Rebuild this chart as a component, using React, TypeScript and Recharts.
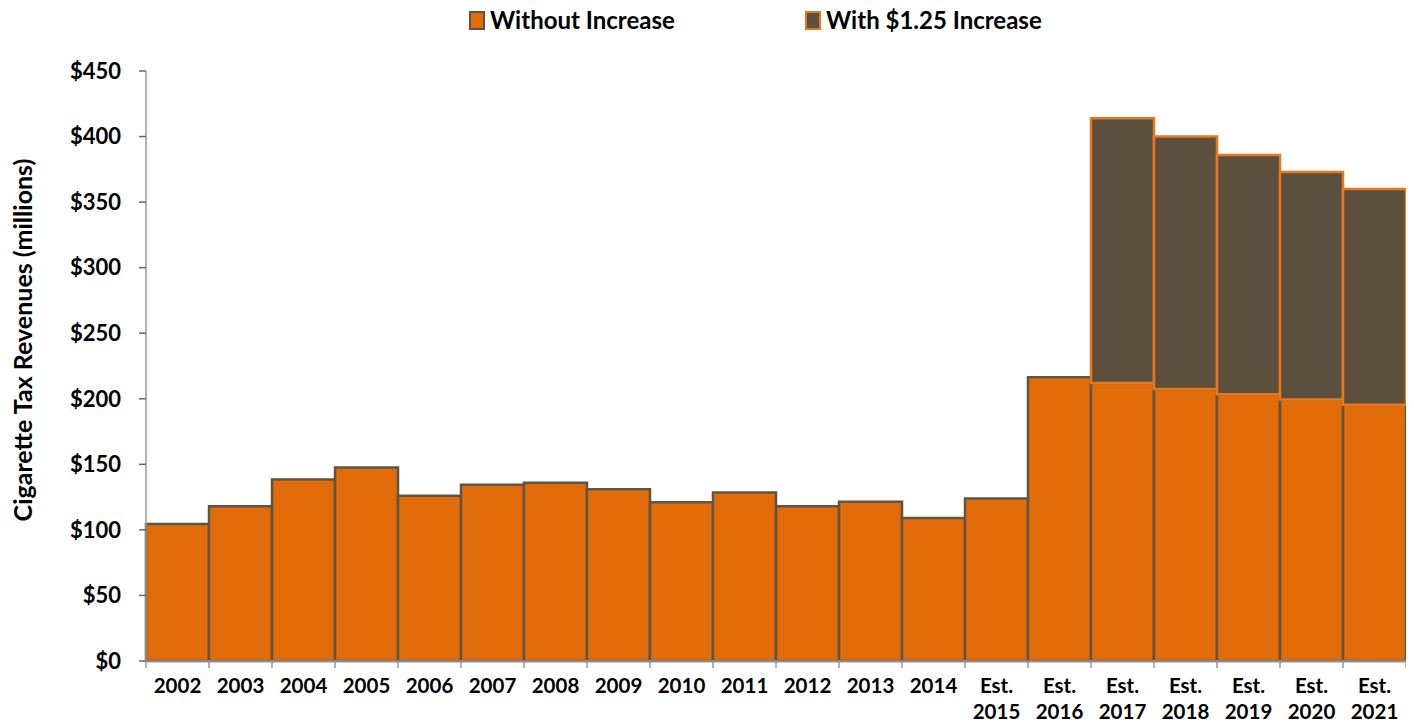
import React from "react";
import { BarChart, Bar, XAxis, YAxis } from "recharts";

const years = [
  "2002", "2003", "2004", "2005", "2006", "2007", "2008", "2009", "2010", "2011",
  "2012", "2013", "2014", "Est. 2015", "Est. 2016", "Est. 2017", "Est. 2018",
  "Est. 2019", "Est. 2020", "Est. 2021",
];
const withoutIncrease = [
  104.5, 118, 138.5, 147.5, 126, 134.5, 136, 131, 121, 128.5,
  118, 121.5, 109, 124, 216.5, 212, 207.5, 203.5, 199.5, 195.5,
];
// totals with the $1.25 increase (only estimated for 2017-2021)
const withIncreaseTotal = [
  null, null, null, null, null, null, null, null, null, null,
  null, null, null, null, null, 414, 400, 386, 373, 360,
];
const yTicks = [0, 50, 100, 150, 200, 250, 300, 350, 400, 450];

const data = years.map((year, i) => ({
  year,
  base: withoutIncrease[i],
  extra: withIncreaseTotal[i] == null ? null : (withIncreaseTotal[i] as number) - withoutIncrease[i],
}));

const ORANGE = "#e36c0a";
const BROWN = "#5c4f3e";
const EDGE = "#5f5545";
const FONT = "Lato, 'Noto Sans', sans-serif";

const W = 1406;
const H = 716;
const PLOT_LEFT = 138;
const PLOT_RIGHT = 1398;
const HALF_BAND = (PLOT_RIGHT - PLOT_LEFT) / years.length / 2;

const XTick = (props: any) => {
  const { x, y, payload, index } = props;
  const parts = String(payload.value).split(" ");
  return (
    <g>
      <line x1={x - HALF_BAND} x2={x - HALF_BAND} y1={y - 7} y2={y} stroke="#999" strokeWidth={1.5} />
      {index === years.length - 1 && (
        <line x1={x + HALF_BAND} x2={x + HALF_BAND} y1={y - 7} y2={y} stroke="#999" strokeWidth={1.5} />
      )}
      <text x={x} y={y + 25} textAnchor="middle" fontFamily={FONT} fontWeight={700} fontSize={20.5} fill="#000">
        {parts.map((p, k) => (
          <tspan key={k} x={x} dy={k === 0 ? 0 : 26}>{p}</tspan>
        ))}
      </text>
    </g>
  );
};

const LegendItem = ({ fill, stroke, label, left }: { fill: string; stroke: string; label: string; left: number }) => (
  <div style={{ position: "absolute", left, top: 0, height: 24, display: "flex", alignItems: "center" }}>
    <div style={{ width: 12, height: 15, background: fill, border: `2.5px solid ${stroke}`, marginRight: 5 }} />
    <span style={{ fontFamily: FONT, fontWeight: 700, fontSize: 24, lineHeight: "24px", color: "#000", whiteSpace: "nowrap" }}>
      {label}
    </span>
  </div>
);

export default function App() {
  return (
    <div style={{ position: "relative", width: W, height: H }}>
      <LegendItem fill={ORANGE} stroke={EDGE} label="Without Increase" left={461} />
      <LegendItem fill={BROWN} stroke="#e8771e" label="With $1.25 Increase" left={797} />
      <BarChart
        width={W}
        height={H}
        data={data}
        margin={{ top: 63, right: W - PLOT_RIGHT, left: 38, bottom: 3 }}
        barCategoryGap={0}
        barGap={0}
      >
        <XAxis
          dataKey="year"
          interval={0}
          height={60}
          tickLine={false}
          tickSize={7}
          tickMargin={0}
          axisLine={{ stroke: "#999", strokeWidth: 1.5 }}
          tick={<XTick />}
        />
        <YAxis
          width={100}
          domain={[0, 450]}
          ticks={yTicks}
          interval={0}
          tickSize={7}
          tickMargin={18}
          tickFormatter={(v: number) => `$${v}`}
          axisLine={{ stroke: "#999", strokeWidth: 1.5 }}
          tickLine={{ stroke: "#666", strokeWidth: 1.5 }}
          tick={{ fontFamily: FONT, fontWeight: 700, fontSize: 22, fill: "#000" }}
          label={{
            content: (p: any) => {
              const vb = p.viewBox;
              const cx = vb.x - 24;
              const cy = vb.y + vb.height / 2 - 26;
              return (
                <text
                  x={cx}
                  y={cy}
                  transform={`rotate(-90 ${cx} ${cy})`}
                  textAnchor="middle"
                  dominantBaseline="central"
                  fontFamily={FONT}
                  fontWeight={700}
                  fontSize={25}
                  fill="#000"
                >
                  Cigarette Tax Revenues (millions)
                </text>
              );
            },
          }}
        />
        <Bar dataKey="base" stackId="a" fill={ORANGE} stroke={EDGE} strokeWidth={2.5} isAnimationActive={false} />
        <Bar dataKey="extra" stackId="a" fill={BROWN} stroke="#e8771e" strokeWidth={2.5} isAnimationActive={false} />
      </BarChart>
    </div>
  );
}
